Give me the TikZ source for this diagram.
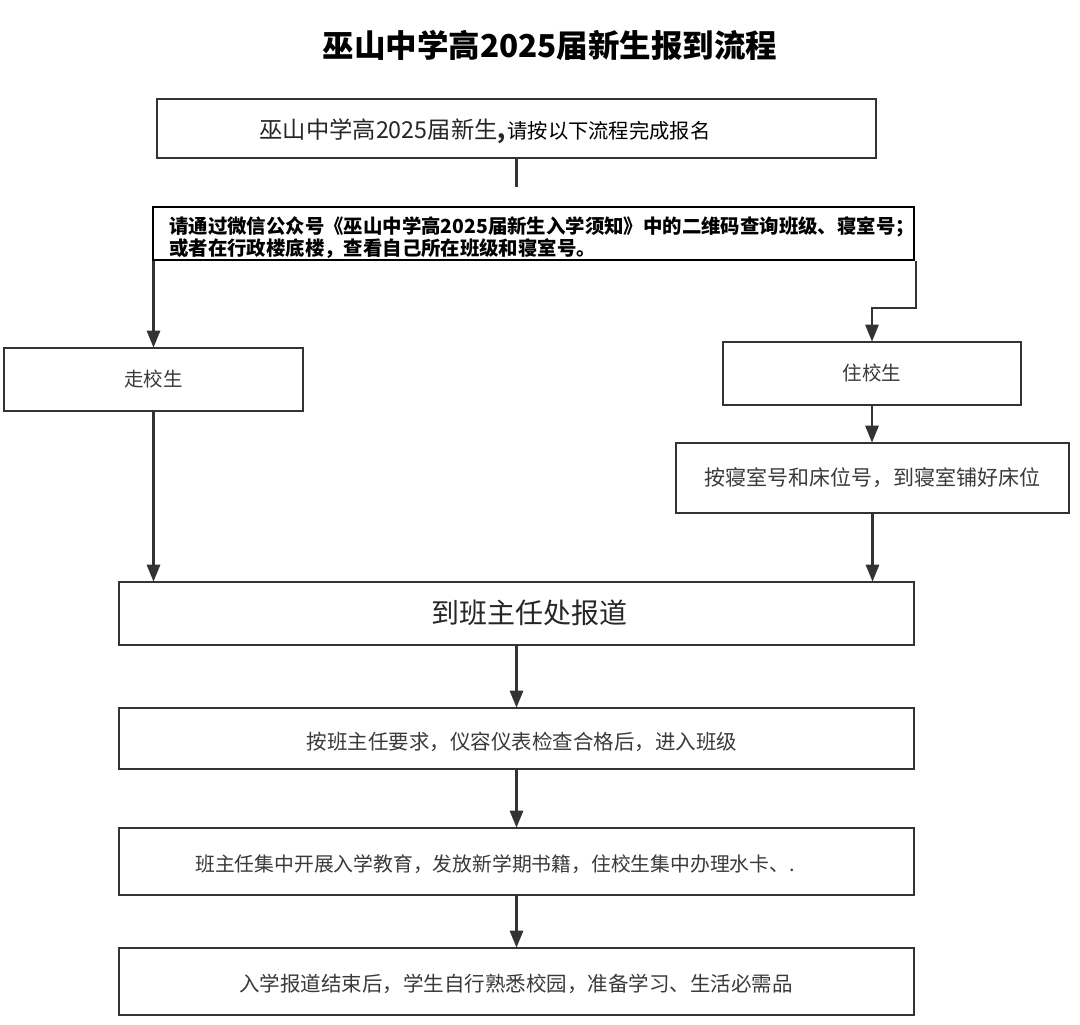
\documentclass[tikz,border=0pt]{standalone}
\usepackage{fontspec}
\setmainfont{Noto Sans CJK SC}
\usetikzlibrary{arrows.meta}
\definecolor{ln}{HTML}{333333}
\definecolor{tx}{HTML}{3A3A3A}
\tikzset{
  box/.style={draw=ln, line width=2.6pt, fill=white, text=tx, inner sep=0pt},
  conn/.style={draw=ln, line width=2.8pt},
  arr/.style={conn, -{Triangle[length=17pt,width=13pt]}, shorten >=-1pt},
}
\begin{document}
\begin{tikzpicture}[x=1pt,y=-1pt]
\useasboundingbox (0,0) rectangle (1080,1025);
\fill[white] (0,0) rectangle (1080,1025);

\node (title) at (550,45) {\fontsize{31.5}{34}\selectfont\bfseries 巫山中学高2025届新生报到流程};

\node[box, minimum width=719pt, minimum height=59pt] (b1) at (516.5,128.5) {};
\node (b1t) at (485,131) {{\fontsize{23.3}{26}\selectfont\color{black!85}巫山中学高2025届新生\textbf{,}}\,{\fontsize{20.3}{24}\selectfont 请按以下流程完成报名}};
\coordinate (b1end) at (516.5,187);
\draw[conn] (b1.south) -- (b1end);

\node[draw=black, line width=2.8pt, fill=white, minimum width=761pt, minimum height=53pt,
      inner sep=0pt] (b2) at (533.5,233.5) {};
\node[anchor=west, inner sep=0pt, align=left, font=\fontsize{19.4}{22}\selectfont\bfseries]
  (b2t) at (169,237.5) {请通过微信公众号《巫山中学高2025届新生入学须知》中的二维码查询班级、寝室号；\\或者在行政楼底楼，查看自己所在班级和寝室号。};

\node[box, minimum width=299pt, minimum height=63pt, font=\fontsize{19.5}{22}\selectfont] (zou) at (153.5,379.5) {走校生};
\node[box, minimum width=298pt, minimum height=63pt, font=\fontsize{19.5}{22}\selectfont] (zhu) at (872,373.5) {住校生};
\node[box, minimum width=393pt, minimum height=70pt, font=\fontsize{21}{24}\selectfont] (an) at (872.5,478) {按寝室号和床位号，到寝室铺好床位};

\node[box, minimum width=795pt, minimum height=63pt] (ban) at (516.5,613.5) {};
\node[text=black!85, font=\fontsize{28}{32}\selectfont] (bant) at (529,613) {到班主任处报道};
\node[box, minimum width=795pt, minimum height=61pt] (s1) at (516.5,738.5) {};
\node[text=tx, font=\fontsize{20.5}{24}\selectfont] (s1t) at (522,742) {按班主任要求，仪容仪表检查合格后，进入班级};
\node[box, minimum width=795pt, minimum height=67pt] (s2) at (516.5,861.5) {};
\node[text=tx, font=\fontsize{19.8}{24}\selectfont] (s2t) at (495,864) {班主任集中开展入学教育，发放新学期书籍，住校生集中办理水卡、.};
\node[box, minimum width=795pt, minimum height=67pt] (s3) at (516.5,981.5) {};
\node[text=tx, font=\fontsize{20.5}{24}\selectfont] (s3t) at (516,984) {入学报道结束后，学生自行熟悉校园，准备学习、生活必需品};

\coordinate (rb) at (916,308);
\draw[arr] (zou.north |- b2.south) -- (zou.north);
\draw[arr] (b2.south -| rb) -- (rb) -| (zhu.north);
\draw[arr] (zhu.south) -- (zhu.south |- an.north);
\draw[arr] (zou.south) -- (zou.south |- ban.north);
\draw[arr] (an.south) -- (an.south |- ban.north);
\draw[arr] (ban.south) -- (s1.north);
\draw[arr] (s1.south) -- (s2.north);
\draw[arr] (s2.south) -- (s3.north);
\end{tikzpicture}
\end{document}
